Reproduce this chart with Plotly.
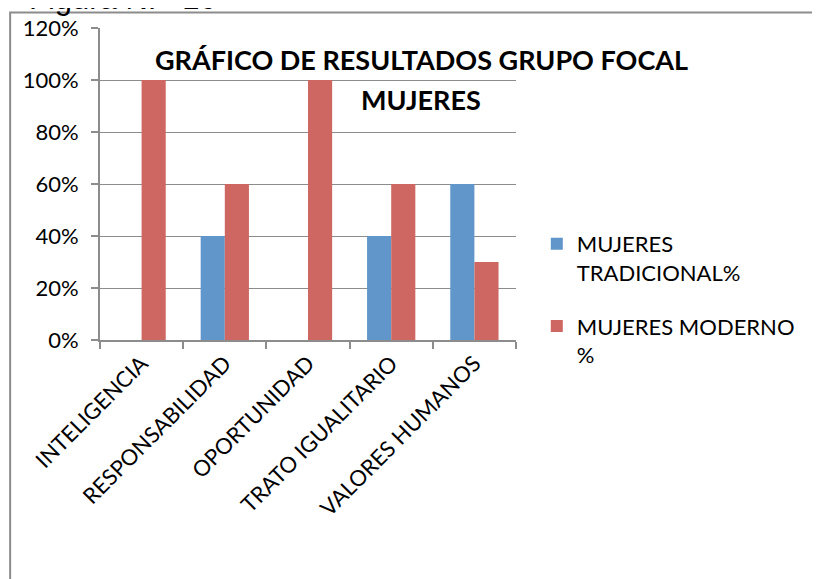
import plotly.graph_objects as go

categorias = ["INTELIGENCIA", "RESPONSABILIDAD", "OPORTUNIDAD", "TRATO IGUALITARIO", "VALORES HUMANOS"]
tradicional = [0.0, 0.4, 0.0, 0.4, 0.6]
moderno = [1.0, 0.6, 1.0, 0.6, 0.3]

FONT = "Lato, 'Liberation Sans', sans-serif"
GRIS = "#8c8c8c"

fig = go.Figure()
fig.add_trace(go.Bar(
    x=categorias, y=tradicional, name="MUJERES<br>TRADICIONAL%", legendgroup="t",
    marker=dict(color="#6096c9", line=dict(width=0)),
))
fig.add_trace(go.Bar(
    x=categorias, y=moderno, name="MUJERES MODERNO<br>%", legendgroup="m",
    marker=dict(color="#ce6661", line=dict(width=0)),
))

# page body adds 8px, so the margins are shifted to compensate
fig.update_layout(
    width=820, height=579,
    margin=dict(l=92, r=312, t=20, b=247),
    paper_bgcolor="white", plot_bgcolor="white",
    font=dict(family=FONT, size=22, color="black"),
    barmode="group", bargap=0.42, bargroupgap=0,
    showlegend=True,
    legend=dict(
        x=1.05, y=0.375, xanchor="left", yanchor="top",
        font=dict(size=22), tracegroupgap=22, itemwidth=30, valign="top",
        bgcolor="rgba(0,0,0,0)",
    ),
)

fig.update_xaxes(
    automargin=False,
    tickangle=-45, showline=True, linecolor=GRIS, linewidth=2,
    ticks="outside", tickson="boundaries", ticklen=7, tickcolor=GRIS, tickwidth=2,
    showgrid=False, tickfont=dict(size=22),
)
fig.update_yaxes(
    automargin=False,
    range=[0, 1.2], dtick=0.2, tickformat=".0%",
    showline=True, linecolor=GRIS, linewidth=2,
    ticks="outside", ticklen=7, tickcolor=GRIS, tickwidth=2,
    showgrid=True, gridcolor=GRIS, gridwidth=1, zeroline=False,
    tickfont=dict(size=22), ticklabelstandoff=8,
)

# title inside the plot area
fig.add_annotation(
    text="<b>GRÁFICO DE RESULTADOS GRUPO FOCAL</b>",
    xref="paper", yref="paper", x=0.772, y=0.9, xanchor="center", yanchor="middle",
    showarrow=False, font=dict(size=27, family=FONT),
)
fig.add_annotation(
    text="<b>MUJERES</b>",
    xref="paper", yref="paper", x=0.772, y=0.772, xanchor="center", yanchor="middle",
    showarrow=False, font=dict(size=27, family=FONT),
)

# partially cropped caption at the top
fig.add_annotation(
    text="Figura N:\u00a0\u00a0 10", xref="paper", yref="paper",
    x=-0.175, y=1.032, xanchor="left", yanchor="bottom",
    showarrow=False, font=dict(size=31, family="'Liberation Sans', sans-serif"),
)

# outer chart border
fig.add_shape(
    type="rect", xref="paper", yref="paper",
    x0=-0.216, x1=1.75, y0=-0.8, y1=1.05,
    line=dict(color=GRIS, width=2), fillcolor="rgba(0,0,0,0)", layer="above",
)

fig.write_html("out.html")
